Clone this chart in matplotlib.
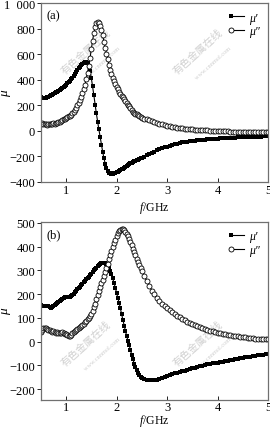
import numpy as np
import matplotlib
matplotlib.use("Agg")
import matplotlib.pyplot as plt
from matplotlib.ticker import FuncFormatter
from matplotlib.lines import Line2D
from matplotlib.legend_handler import HandlerLine2D

# frequency sweep, GHz: fine steps up to 2.5, coarser afterwards
freq = np.round(np.r_[np.arange(0.5, 2.5001, 0.025), np.arange(2.55, 5.0001, 0.05)], 3)

# (a) permeability
mu1_a = [263, 260, 258, 258, 259, 262, 266, 271, 277, 283,
         289, 295, 301, 307, 313, 320, 327, 335, 343, 352,
         362, 372, 382, 392, 404, 416, 429, 443, 458, 473,
         488, 503, 516, 527, 535, 540, 538, 528, 508, 470,
         415, 350, 280, 205, 135, 70, 10, -50, -110, -165,
         -215, -260, -295, -318, -330, -336, -338, -337, -335, -332,
         -328, -323, -318, -312, -305, -298, -291, -284, -277, -270,
         -264, -258, -252, -246, -241, -236, -231, -227, -223, -219,
         -215,
         -205, -195, -185, -175, -165, -156, -147, -139, -132, -125,
         -119, -113, -107, -102, -97, -93, -89, -86, -83, -80,
         -78, -76, -74, -72, -70, -68, -66, -65, -63, -62,
         -61, -60, -59, -58, -57, -56, -55, -54, -53, -52,
         -51, -50, -50, -49, -48, -47, -47, -46, -45, -45]

mu2_a = [55, 58, 52, 50, 54, 48, 52, 50, 55, 52,
         57, 55, 60, 58, 64, 68, 75, 80, 88, 94,
         100, 106, 112, 118, 126, 136, 148, 163, 180, 198,
         218, 240, 265, 293, 325, 362, 405, 455, 510, 570,
         640, 705, 765, 812, 842, 855, 848, 825, 790, 748,
         700, 652, 605, 560, 518, 480, 445, 415, 388, 364,
         340, 323, 306, 290, 275, 262, 250, 235, 220, 205,
         190, 175, 162, 150, 142, 134, 127, 120, 113, 107,
         101,
         95, 88, 81, 74, 67, 61, 55, 49, 43, 38,
         34, 30, 27, 24, 21, 18, 15, 13, 11, 9,
         7, 6, 4, 3, 2, 1, 0, -1, -2, -3,
         -4, -5, -6, -6, -7, -7, -8, -8, -8, -9,
         -9, -9, -10, -10, -10, -10, -11, -11, -11, -11]

# (b) permeability
mu1_b = [155, 152, 150, 151, 150, 149, 150, 146, 143, 145,
         150, 156, 160, 164, 168, 172, 176, 180, 184, 187,
         186, 188, 190, 188, 192, 196, 202, 208, 214, 220,
         226, 232, 238, 244, 250, 256, 262, 268, 274, 280,
         287, 294, 300, 306, 312, 318, 323, 327, 330, 332,
         332, 330, 325, 318, 309, 297, 283, 266, 247, 227,
         206, 185, 164, 140, 115, 91, 67, 45, 24, 4,
         -16, -36, -56, -75, -93, -108, -120, -131, -141, -148,
         -153,
         -158, -161, -163, -163, -162, -160, -157, -154, -150, -146,
         -142, -138, -134, -131, -128, -125, -122, -119, -116, -113,
         -110, -107, -104, -101, -98, -96, -94, -92, -90, -88,
         -86, -84, -82, -80, -78, -76, -74, -72, -70, -68,
         -66, -64, -63, -61, -59, -58, -56, -55, -53, -52]

mu2_b = [40, 50, 56, 58, 57, 53, 50, 48, 45, 42,
         45, 40, 38, 42, 36, 35, 38, 42, 36, 33,
         30, 27, 25, 24, 28, 35, 40, 45, 50, 53,
         56, 60, 64, 68, 74, 82, 88, 94, 100, 108,
         118, 130, 145, 160, 180, 198, 215, 230, 245, 260,
         275, 292, 310, 328, 346, 364, 382, 398, 414, 430,
         444, 456, 465, 471, 474, 473, 469, 462, 454, 444,
         432, 419, 405, 391, 377, 363, 349, 336, 323, 311,
         299,
         276, 255, 234, 215, 199, 185, 172, 160, 149, 140,
         132, 124, 116, 109, 102, 96, 90, 84, 79, 74,
         69, 65, 60, 56, 52, 49, 46, 43, 40, 38,
         36, 33, 31, 29, 27, 25, 24, 22, 21, 19,
         18, 17, 16, 14, 13, 12, 11, 11, 10, 9]

panels = [
    ("(a)", mu1_a, mu2_a, (-405, 1000), [-400, -200, 0, 200, 400, 600, 800, 1000]),
    ("(b)", mu1_b, mu2_b, (-246, 504), [-200, -100, 0, 100, 200, 300, 400, 500]),
]

plt.rcParams['font.family'] = ['Liberation Serif', 'DejaVu Serif']
plt.rcParams['mathtext.fontset'] = 'custom'
plt.rcParams['mathtext.rm'] = 'Liberation Serif'
plt.rcParams['mathtext.it'] = 'Liberation Serif:italic'


class MarkerAtStart(HandlerLine2D):
    # legend entry drawn as "marker—" like the original figure
    def create_artists(self, legend, orig_handle, xdescent, ydescent,
                       width, height, fontsize, trans):
        xdata, _ = self.get_xdata(legend, xdescent, ydescent, width, height, fontsize)
        ydata = np.full_like(xdata, (height - ydescent) / 2)
        line = Line2D(xdata, ydata)
        self.update_prop(line, orig_handle, legend)
        line.set_marker('None')
        mark = Line2D(xdata[:1], ydata[:1])
        self.update_prop(mark, orig_handle, legend)
        mark.set_linestyle('None')
        line.set_transform(trans)
        mark.set_transform(trans)
        return [line, mark]


fig = plt.figure(figsize=(2.70, 4.31), dpi=100)
rects = [[0.151, 0.575, 0.842, 0.415], [0.151, 0.0696, 0.842, 0.413]]
xlab_y = [-0.095, -0.07]

def thousands(v, pos):
    v = int(round(v))
    s = f"{abs(v):,}".replace(",", "  ")
    return ("\u2212" if v < 0 else "") + s

wm_color = "#d0d0d0"
wm_spots = [[(0.20, 0.73), (0.69, 0.73)], [(0.20, 0.32), (0.69, 0.32)]]

for (tag, m1, m2, ylim, yticks), rect, spots, xly in zip(panels, rects, wm_spots, xlab_y):
    ax = fig.add_axes(rect)
    ax.plot(freq, m1, '-s', color='black', lw=0.8, ms=3.2, mew=0)
    ax.plot(freq, m2, '-o', color='black', lw=0.8, ms=3.6, mew=0.6, mfc='white')
    ax.set_xlim(0.5, 5.0)
    ax.set_ylim(*ylim)
    ax.set_xticks([1, 2, 3, 4, 5])
    ax.set_yticks(yticks)
    ax.yaxis.set_major_formatter(FuncFormatter(thousands))
    ax.tick_params(axis='x', direction='in', length=3, width=0.6, labelsize=9, pad=1)
    ax.tick_params(axis='y', direction='out', length=3, width=0.6, labelsize=9, pad=1)
    for sp in ax.spines.values():
        sp.set_color('#707070')
        sp.set_linewidth(0.9)
    ax.set_xlabel(r'$\mathit{f}$/GHz', fontsize=8.5)
    ax.xaxis.set_label_coords(0.5, xly)
    ax.set_ylabel("\u03bc", fontsize=9.5, style='italic')
    ax.yaxis.set_label_coords(-0.13, 0.5)
    ax.text(0.025, 0.965, tag, transform=ax.transAxes, fontsize=9, va='top', ha='left')

    h1 = Line2D([], [], color='black', lw=0.8, marker='s', ms=3.2, mew=0)
    h2 = Line2D([], [], color='black', lw=0.8, marker='o', ms=3.6, mew=0.6, mfc='white')
    ax.legend([h1, h2], ["\u03bc\u2032", "\u03bc\u2033"], loc='upper right',
              frameon=False, numpoints=1, handlelength=1.1, handletextpad=0.4,
              labelspacing=0.15, borderaxespad=0.3,
              handler_map={Line2D: MarkerAtStart()},
              prop={'style': 'italic', 'size': 8.5})
    for (wx, wy) in spots:
        ax.text(wx, wy, "有色金属在线", transform=ax.transAxes, rotation=42,
                fontsize=7.5, color=wm_color, ha='center', va='center',
                family=['Noto Sans CJK SC', 'DejaVu Sans'], zorder=0)
        ax.text(wx + 0.07, wy - 0.06, "www.cnnmol.com", transform=ax.transAxes,
                rotation=42, fontsize=4.5, color=wm_color, ha='center', va='center',
                zorder=0)

fig.savefig("out.png", dpi=100)
